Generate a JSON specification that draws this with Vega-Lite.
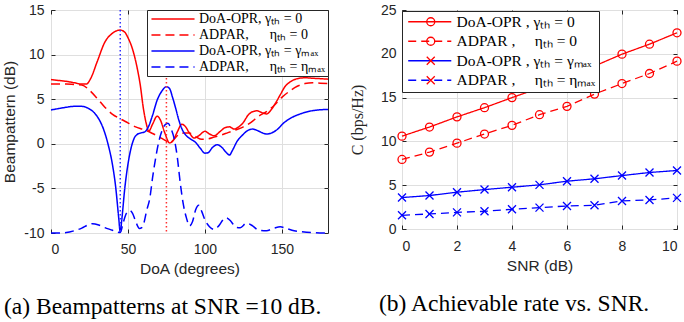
{
  "$schema": "https://vega.github.io/schema/vega-lite/v6.json",
  "background": "white",
  "padding": {"left": 2, "top": 2, "right": 0, "bottom": 0},
  "bounds": "flush",
  "spacing": 74,
  "config": {
    "view": {"stroke": "#262626", "strokeWidth": 1},
    "axis": {
      "labelFont": "Liberation Sans", "labelFontSize": 14, "labelColor": "#262626",
      "titleFont": "Liberation Sans", "titleFontSize": 15.5, "titleFontWeight": "normal", "titleColor": "#262626",
      "gridColor": "#dfdfdf", "gridWidth": 1, "domain": false,
      "tickColor": "#262626", "tickSize": -4, "tickWidth": 1
    }
  },
  "resolve": {
    "scale": {"color": "independent", "strokeDash": "independent", "shape": "independent"},
    "legend": {"color": "independent", "strokeDash": "independent", "shape": "independent"}
  },
  "datasets": {
    "beamRed": [
      {"doa": 0, "bp": 7.2, "s": "r1"}, {"doa": 5, "bp": 7.1, "s": "r1"}, {"doa": 10, "bp": 7.0, "s": "r1"},
      {"doa": 15, "bp": 6.85, "s": "r1"}, {"doa": 20, "bp": 6.7, "s": "r1"}, {"doa": 23, "bp": 6.7, "s": "r1"},
      {"doa": 26, "bp": 7.4, "s": "r1"}, {"doa": 30, "bp": 9.2, "s": "r1"}, {"doa": 35, "bp": 11.4, "s": "r1"},
      {"doa": 40, "bp": 12.4, "s": "r1"}, {"doa": 45, "bp": 12.75, "s": "r1"}, {"doa": 48, "bp": 12.5, "s": "r1"},
      {"doa": 50, "bp": 11.9, "s": "r1"}, {"doa": 53, "bp": 10.6, "s": "r1"}, {"doa": 56, "bp": 8.5, "s": "r1"},
      {"doa": 58, "bp": 6.6, "s": "r1"}, {"doa": 60, "bp": 4.0, "s": "r1"}, {"doa": 62, "bp": 2.2, "s": "r1"},
      {"doa": 63.5, "bp": 1.4, "s": "r1"}, {"doa": 66, "bp": 2.2, "s": "r1"}, {"doa": 69, "bp": 3.1, "s": "r1"},
      {"doa": 71, "bp": 2.7, "s": "r1"}, {"doa": 74, "bp": 1.2, "s": "r1"}, {"doa": 77, "bp": 0.1, "s": "r1"},
      {"doa": 79, "bp": 0.3, "s": "r1"}, {"doa": 82, "bp": 1.3, "s": "r1"}, {"doa": 85, "bp": 2.2, "s": "r1"},
      {"doa": 87, "bp": 2.0, "s": "r1"}, {"doa": 90, "bp": 1.2, "s": "r1"}, {"doa": 93, "bp": 0.65, "s": "r1"},
      {"doa": 96, "bp": 0.9, "s": "r1"}, {"doa": 100, "bp": 1.4, "s": "r1"}, {"doa": 103, "bp": 1.1, "s": "r1"},
      {"doa": 106, "bp": 0.9, "s": "r1"}, {"doa": 110, "bp": 1.4, "s": "r1"}, {"doa": 113, "bp": 1.8, "s": "r1"},
      {"doa": 116, "bp": 1.9, "s": "r1"}, {"doa": 119, "bp": 1.65, "s": "r1"}, {"doa": 122, "bp": 1.9, "s": "r1"},
      {"doa": 125, "bp": 2.4, "s": "r1"}, {"doa": 128, "bp": 3.2, "s": "r1"}, {"doa": 131, "bp": 3.6, "s": "r1"},
      {"doa": 134, "bp": 3.7, "s": "r1"}, {"doa": 137, "bp": 3.5, "s": "r1"}, {"doa": 140, "bp": 3.35, "s": "r1"},
      {"doa": 143, "bp": 3.8, "s": "r1"}, {"doa": 146, "bp": 4.6, "s": "r1"}, {"doa": 149, "bp": 5.5, "s": "r1"},
      {"doa": 152, "bp": 6.4, "s": "r1"}, {"doa": 156, "bp": 7.0, "s": "r1"}, {"doa": 160, "bp": 7.3, "s": "r1"},
      {"doa": 165, "bp": 7.4, "s": "r1"}, {"doa": 170, "bp": 7.35, "s": "r1"}, {"doa": 175, "bp": 7.3, "s": "r1"},
      {"doa": 180, "bp": 7.25, "s": "r1"},
      {"doa": 0, "bp": 6.7, "s": "r2"}, {"doa": 5, "bp": 6.7, "s": "r2"}, {"doa": 10, "bp": 6.7, "s": "r2"},
      {"doa": 15, "bp": 6.65, "s": "r2"}, {"doa": 20, "bp": 6.6, "s": "r2"}, {"doa": 25, "bp": 6.0, "s": "r2"},
      {"doa": 30, "bp": 5.1, "s": "r2"}, {"doa": 35, "bp": 4.1, "s": "r2"}, {"doa": 40, "bp": 3.3, "s": "r2"},
      {"doa": 45, "bp": 2.8, "s": "r2"}, {"doa": 50, "bp": 2.35, "s": "r2"}, {"doa": 55, "bp": 1.9, "s": "r2"},
      {"doa": 60, "bp": 1.6, "s": "r2"}, {"doa": 63, "bp": 1.4, "s": "r2"}, {"doa": 66, "bp": 1.15, "s": "r2"},
      {"doa": 69, "bp": 0.9, "s": "r2"}, {"doa": 72, "bp": 0.6, "s": "r2"}, {"doa": 75, "bp": 0.3, "s": "r2"},
      {"doa": 77, "bp": 0.1, "s": "r2"}, {"doa": 79, "bp": 0.3, "s": "r2"}, {"doa": 82, "bp": 0.9, "s": "r2"},
      {"doa": 86, "bp": 1.2, "s": "r2"}, {"doa": 90, "bp": 1.2, "s": "r2"}, {"doa": 94, "bp": 0.8, "s": "r2"},
      {"doa": 98, "bp": 0.5, "s": "r2"}, {"doa": 102, "bp": 0.55, "s": "r2"}, {"doa": 106, "bp": 0.75, "s": "r2"},
      {"doa": 110, "bp": 0.95, "s": "r2"}, {"doa": 115, "bp": 1.25, "s": "r2"}, {"doa": 120, "bp": 1.55, "s": "r2"},
      {"doa": 125, "bp": 1.9, "s": "r2"}, {"doa": 130, "bp": 2.4, "s": "r2"}, {"doa": 135, "bp": 3.1, "s": "r2"},
      {"doa": 140, "bp": 3.6, "s": "r2"}, {"doa": 145, "bp": 4.3, "s": "r2"}, {"doa": 150, "bp": 5.2, "s": "r2"},
      {"doa": 155, "bp": 5.9, "s": "r2"}, {"doa": 160, "bp": 6.45, "s": "r2"}, {"doa": 165, "bp": 6.75, "s": "r2"},
      {"doa": 170, "bp": 6.85, "s": "r2"}, {"doa": 175, "bp": 6.8, "s": "r2"}, {"doa": 180, "bp": 6.75, "s": "r2"}
    ],
    "beamBlue": [
      {"doa": 0, "bp": 3.8, "s": "b1"}, {"doa": 5, "bp": 3.95, "s": "b1"}, {"doa": 10, "bp": 4.1, "s": "b1"},
      {"doa": 15, "bp": 4.2, "s": "b1"}, {"doa": 20, "bp": 4.2, "s": "b1"}, {"doa": 25, "bp": 3.9, "s": "b1"},
      {"doa": 28, "bp": 3.5, "s": "b1"}, {"doa": 31, "bp": 2.8, "s": "b1"}, {"doa": 34, "bp": 1.7, "s": "b1"},
      {"doa": 37, "bp": 0.0, "s": "b1"}, {"doa": 40, "bp": -2.4, "s": "b1"}, {"doa": 42, "bp": -4.8, "s": "b1"},
      {"doa": 44, "bp": -8.3, "s": "b1"}, {"doa": 45, "bp": -9.9, "s": "b1"}, {"doa": 46, "bp": -8.5, "s": "b1"},
      {"doa": 48, "bp": -4.9, "s": "b1"}, {"doa": 50, "bp": -2.3, "s": "b1"}, {"doa": 52, "bp": -0.5, "s": "b1"},
      {"doa": 54, "bp": 0.6, "s": "b1"}, {"doa": 56, "bp": 1.05, "s": "b1"}, {"doa": 58, "bp": 1.2, "s": "b1"},
      {"doa": 61, "bp": 1.35, "s": "b1"}, {"doa": 63, "bp": 1.8, "s": "b1"}, {"doa": 66, "bp": 3.2, "s": "b1"},
      {"doa": 69, "bp": 4.9, "s": "b1"}, {"doa": 72, "bp": 5.9, "s": "b1"}, {"doa": 75, "bp": 6.4, "s": "b1"},
      {"doa": 77, "bp": 6.2, "s": "b1"}, {"doa": 79, "bp": 5.2, "s": "b1"}, {"doa": 81, "bp": 4.0, "s": "b1"},
      {"doa": 83, "bp": 2.7, "s": "b1"}, {"doa": 85, "bp": 1.7, "s": "b1"}, {"doa": 88, "bp": 0.9, "s": "b1"},
      {"doa": 91, "bp": 0.5, "s": "b1"}, {"doa": 94, "bp": 0.15, "s": "b1"}, {"doa": 97, "bp": -0.5, "s": "b1"},
      {"doa": 100, "bp": -1.05, "s": "b1"}, {"doa": 102, "bp": -1.0, "s": "b1"}, {"doa": 105, "bp": -0.4, "s": "b1"},
      {"doa": 108, "bp": -0.1, "s": "b1"}, {"doa": 111, "bp": -0.4, "s": "b1"}, {"doa": 114, "bp": -1.0, "s": "b1"},
      {"doa": 116, "bp": -1.25, "s": "b1"}, {"doa": 118, "bp": -0.7, "s": "b1"}, {"doa": 121, "bp": 0.3, "s": "b1"},
      {"doa": 124, "bp": 0.9, "s": "b1"}, {"doa": 128, "bp": 1.5, "s": "b1"}, {"doa": 131, "bp": 1.65, "s": "b1"},
      {"doa": 134, "bp": 1.5, "s": "b1"}, {"doa": 137, "bp": 1.25, "s": "b1"}, {"doa": 140, "bp": 1.1, "s": "b1"},
      {"doa": 143, "bp": 1.2, "s": "b1"}, {"doa": 147, "bp": 1.6, "s": "b1"}, {"doa": 151, "bp": 2.3, "s": "b1"},
      {"doa": 156, "bp": 2.9, "s": "b1"}, {"doa": 162, "bp": 3.35, "s": "b1"}, {"doa": 168, "bp": 3.65, "s": "b1"},
      {"doa": 174, "bp": 3.8, "s": "b1"}, {"doa": 180, "bp": 3.85, "s": "b1"},
      {"doa": 0, "bp": -10, "s": "b2"}, {"doa": 5, "bp": -10, "s": "b2"}, {"doa": 10, "bp": -9.95, "s": "b2"},
      {"doa": 15, "bp": -9.75, "s": "b2"}, {"doa": 20, "bp": -9.45, "s": "b2"}, {"doa": 24, "bp": -9.1, "s": "b2"},
      {"doa": 27, "bp": -8.95, "s": "b2"}, {"doa": 31, "bp": -9.1, "s": "b2"}, {"doa": 35, "bp": -9.4, "s": "b2"},
      {"doa": 40, "bp": -9.7, "s": "b2"}, {"doa": 43, "bp": -9.9, "s": "b2"}, {"doa": 45, "bp": -9.95, "s": "b2"},
      {"doa": 47, "bp": -8.8, "s": "b2"}, {"doa": 49, "bp": -7.8, "s": "b2"}, {"doa": 51.3, "bp": -7.5, "s": "b2"},
      {"doa": 53, "bp": -7.8, "s": "b2"}, {"doa": 55, "bp": -8.7, "s": "b2"}, {"doa": 57.5, "bp": -9.5, "s": "b2"},
      {"doa": 59, "bp": -9.4, "s": "b2"}, {"doa": 60.5, "bp": -8.8, "s": "b2"}, {"doa": 62, "bp": -7.6, "s": "b2"},
      {"doa": 64.3, "bp": -6.0, "s": "b2"}, {"doa": 66, "bp": -3.8, "s": "b2"}, {"doa": 68, "bp": -1.6, "s": "b2"},
      {"doa": 70, "bp": 0.2, "s": "b2"}, {"doa": 72, "bp": 1.4, "s": "b2"}, {"doa": 74, "bp": 2.1, "s": "b2"},
      {"doa": 76, "bp": 2.3, "s": "b2"}, {"doa": 78, "bp": 1.7, "s": "b2"}, {"doa": 80, "bp": 0.6, "s": "b2"},
      {"doa": 82, "bp": -1.4, "s": "b2"}, {"doa": 84, "bp": -4.4, "s": "b2"}, {"doa": 86, "bp": -6.8, "s": "b2"},
      {"doa": 88, "bp": -8.3, "s": "b2"}, {"doa": 90, "bp": -9.2, "s": "b2"}, {"doa": 92, "bp": -8.7, "s": "b2"},
      {"doa": 94, "bp": -7.4, "s": "b2"}, {"doa": 96, "bp": -6.9, "s": "b2"}, {"doa": 98, "bp": -7.6, "s": "b2"},
      {"doa": 100, "bp": -8.5, "s": "b2"}, {"doa": 103, "bp": -9.3, "s": "b2"}, {"doa": 106, "bp": -9.6, "s": "b2"},
      {"doa": 109, "bp": -9.2, "s": "b2"}, {"doa": 112, "bp": -8.5, "s": "b2"}, {"doa": 114, "bp": -8.3, "s": "b2"},
      {"doa": 117, "bp": -8.7, "s": "b2"}, {"doa": 120, "bp": -9.35, "s": "b2"}, {"doa": 123, "bp": -9.4, "s": "b2"},
      {"doa": 127, "bp": -8.9, "s": "b2"}, {"doa": 131, "bp": -9.2, "s": "b2"}, {"doa": 135, "bp": -9.7, "s": "b2"},
      {"doa": 140, "bp": -9.75, "s": "b2"}, {"doa": 145, "bp": -9.45, "s": "b2"}, {"doa": 149, "bp": -9.3, "s": "b2"},
      {"doa": 153, "bp": -9.5, "s": "b2"}, {"doa": 158, "bp": -9.75, "s": "b2"}, {"doa": 163, "bp": -9.85, "s": "b2"},
      {"doa": 170, "bp": -9.95, "s": "b2"}, {"doa": 180, "bp": -10, "s": "b2"}
    ],
    "marks": [
      {"doa": 45, "col": "#3030ff"},
      {"doa": 75, "col": "#ff3030"}
    ],
    "rate": [
      {"snr": 0, "c": 10.6, "s": "R1", "m": "o1"}, {"snr": 1, "c": 11.64, "s": "R1", "m": "o1"},
      {"snr": 2, "c": 12.8, "s": "R1", "m": "o1"}, {"snr": 3, "c": 13.85, "s": "R1", "m": "o1"},
      {"snr": 4, "c": 15.0, "s": "R1", "m": "o1"}, {"snr": 5, "c": 16.1, "s": "R1", "m": "o1"},
      {"snr": 6, "c": 17.3, "s": "R1", "m": "o1"}, {"snr": 7, "c": 18.6, "s": "R1", "m": "o1"},
      {"snr": 8, "c": 19.96, "s": "R1", "m": "o1"}, {"snr": 9, "c": 21.1, "s": "R1", "m": "o1"},
      {"snr": 10, "c": 22.4, "s": "R1", "m": "o1"},
      {"snr": 0, "c": 7.94, "s": "R2", "m": "o2"}, {"snr": 1, "c": 8.78, "s": "R2", "m": "o2"},
      {"snr": 2, "c": 9.8, "s": "R2", "m": "o2"}, {"snr": 3, "c": 10.84, "s": "R2", "m": "o2"},
      {"snr": 4, "c": 11.83, "s": "R2", "m": "o2"}, {"snr": 5, "c": 13.05, "s": "R2", "m": "o2"},
      {"snr": 6, "c": 14.0, "s": "R2", "m": "o2"}, {"snr": 7, "c": 15.4, "s": "R2", "m": "o2"},
      {"snr": 8, "c": 16.6, "s": "R2", "m": "o2"}, {"snr": 9, "c": 17.75, "s": "R2", "m": "o2"},
      {"snr": 10, "c": 19.16, "s": "R2", "m": "o2"},
      {"snr": 0, "c": 3.59, "s": "B1", "m": "x1"}, {"snr": 1, "c": 3.82, "s": "B1", "m": "x1"},
      {"snr": 2, "c": 4.2, "s": "B1", "m": "x1"}, {"snr": 3, "c": 4.5, "s": "B1", "m": "x1"},
      {"snr": 4, "c": 4.77, "s": "B1", "m": "x1"}, {"snr": 5, "c": 5.04, "s": "B1", "m": "x1"},
      {"snr": 6, "c": 5.46, "s": "B1", "m": "x1"}, {"snr": 7, "c": 5.73, "s": "B1", "m": "x1"},
      {"snr": 8, "c": 6.1, "s": "B1", "m": "x1"}, {"snr": 9, "c": 6.45, "s": "B1", "m": "x1"},
      {"snr": 10, "c": 6.68, "s": "B1", "m": "x1"},
      {"snr": 0, "c": 1.56, "s": "B2", "m": "x2"}, {"snr": 1, "c": 1.72, "s": "B2", "m": "x2"},
      {"snr": 2, "c": 1.9, "s": "B2", "m": "x2"}, {"snr": 3, "c": 2.02, "s": "B2", "m": "x2"},
      {"snr": 4, "c": 2.25, "s": "B2", "m": "x2"}, {"snr": 5, "c": 2.44, "s": "B2", "m": "x2"},
      {"snr": 6, "c": 2.63, "s": "B2", "m": "x2"}, {"snr": 7, "c": 2.71, "s": "B2", "m": "x2"},
      {"snr": 8, "c": 3.2, "s": "B2", "m": "x2"}, {"snr": 9, "c": 3.32, "s": "B2", "m": "x2"},
      {"snr": 10, "c": 3.55, "s": "B2", "m": "x2"}
    ]
  },
  "hconcat": [
    {
      "width": 277,
      "height": 223,
      "title": {
        "text": "(a) Beampatterns at SNR =10 dB.", "orient": "bottom", "anchor": "start", "frame": "group",
        "dx": -47, "offset": 18, "font": "Liberation Serif", "fontSize": 23.5, "fontWeight": "normal", "color": "black"
      },
      "resolve": {"axis": {"x": "independent", "y": "independent"}},
      "layer": [
        {
          "data": {"name": "beamRed"},
          "mark": {"type": "line", "strokeWidth": 1.5, "interpolate": "monotone"},
          "encoding": {
            "x": {"field": "doa", "type": "quantitative", "scale": {"domain": [0, 180], "nice": false},
              "axis": {"values": [0, 50, 100, 150], "title": "DoA (degrees)", "labelPadding": 13, "titlePadding": 5}},
            "y": {"field": "bp", "type": "quantitative", "scale": {"domain": [-10, 15], "nice": false},
              "axis": {"values": [-10, -5, 0, 5, 10, 15], "title": "Beampattern (dB)", "labelExpr": "'' + datum.value", "labelPadding": 11, "titlePadding": 6}},
            "color": {"field": "s", "type": "nominal",
              "scale": {"domain": ["r1", "r2", "b1", "b2"], "range": ["#ff0000", "#ff0000", "#0000ff", "#0000ff"]},
              "legend": {"orient": "top-right", "offset": 0, "title": null, "symbolType": "M-4,0L4,0", "symbolSize": 116, "symbolStrokeWidth": 1.5, "symbolOffset": 17,
                "labelFont": "Liberation Serif", "labelFontSize": 14, "labelColor": "black", "labelLimit": 400, "labelOffset": 19,
                "strokeColor": "#262626", "fillColor": "white", "padding": 2, "rowPadding": 2, "cornerRadius": 0,
                "labelExpr": "datum.value == 'r1' ? 'DoA-OPR, γₜₕ = 0' : datum.value == 'r2' ? 'ADPAR,\u00a0\u00a0\u00a0\u00a0\u00a0\u00a0ηₜₕ = 0' : datum.value == 'b1' ? 'DoA-OPR, γₜₕ = γₘₐₓ' : 'ADPAR,\u00a0\u00a0\u00a0\u00a0\u00a0\u00a0ηₜₕ = ηₘₐₓ'"}},
            "strokeDash": {"field": "s", "type": "nominal",
              "scale": {"domain": ["r1", "r2", "b1", "b2"], "range": [[1, 0], [9, 5], [1, 0], [9, 5]]},
              "legend": {"orient": "top-right", "offset": 0, "title": null, "symbolType": "M-4,0L4,0", "symbolSize": 116, "symbolStrokeWidth": 1.5, "symbolOffset": 17,
                "labelFont": "Liberation Serif", "labelFontSize": 14, "labelColor": "black", "labelLimit": 400, "labelOffset": 19,
                "strokeColor": "#262626", "fillColor": "white", "padding": 2, "rowPadding": 2, "cornerRadius": 0,
                "labelExpr": "datum.value == 'r1' ? 'DoA-OPR, γₜₕ = 0' : datum.value == 'r2' ? 'ADPAR,\u00a0\u00a0\u00a0\u00a0\u00a0\u00a0ηₜₕ = 0' : datum.value == 'b1' ? 'DoA-OPR, γₜₕ = γₘₐₓ' : 'ADPAR,\u00a0\u00a0\u00a0\u00a0\u00a0\u00a0ηₜₕ = ηₘₐₓ'"}}
          }
        },
        {
          "data": {"name": "beamBlue"},
          "mark": {"type": "line", "strokeWidth": 1.5, "interpolate": "monotone"},
          "encoding": {
            "x": {"field": "doa", "type": "quantitative", "axis": null},
            "y": {"field": "bp", "type": "quantitative",
              "axis": {"orient": "right", "values": [-10, -5, 0, 5, 10, 15], "labels": false, "grid": false, "title": null}},
            "color": {"field": "s", "type": "nominal"},
            "strokeDash": {"field": "s", "type": "nominal"}
          }
        },
        {
          "data": {"name": "marks"},
          "mark": {"type": "rule", "strokeDash": [1.5, 2.5], "strokeWidth": 1.5},
          "encoding": {
            "x": {"field": "doa", "type": "quantitative",
              "axis": {"orient": "top", "values": [0, 50, 100, 150], "labels": false, "grid": false, "title": null}},
            "stroke": {"field": "col", "type": "nominal", "scale": null}
          }
        }
      ]
    },
    {
      "width": 275,
      "height": 219,
      "title": {
        "text": "(b) Achievable rate vs. SNR.", "orient": "bottom", "anchor": "start", "frame": "group",
        "dx": -23, "offset": 18, "font": "Liberation Serif", "fontSize": 23.5, "fontWeight": "normal", "color": "black"
      },
      "resolve": {"axis": {"x": "independent", "y": "independent"}},
      "layer": [
        {
          "data": {"name": "rate"},
          "mark": {"type": "line", "strokeWidth": 1.3},
          "encoding": {
            "x": {"field": "snr", "type": "quantitative", "scale": {"domain": [0, 10], "nice": false},
              "axis": {"values": [0, 2, 4, 6, 8, 10], "title": "SNR (dB)", "labelPadding": 14, "titlePadding": 5}},
            "y": {"field": "c", "type": "quantitative", "scale": {"domain": [0, 25], "nice": false},
              "axis": {"values": [0, 5, 10, 15, 20, 25], "title": "C (bps/Hz)", "titleFont": "Liberation Serif", "titleFontSize": 16, "labelPadding": 10, "titlePadding": 15}},
            "color": {"field": "s", "type": "nominal",
              "scale": {"domain": ["R1", "R2", "B1", "B2"], "range": ["#ff0000", "#ff0000", "#0000ff", "#0000ff"]},
              "legend": {"orient": "none", "legendX": 0, "legendY": 1, "title": null, "symbolType": "M-4,0L4,0", "symbolSize": 116, "symbolStrokeWidth": 1.3, "symbolOffset": 17,
                "labelFont": "Liberation Serif", "labelFontSize": 15.5, "labelColor": "black", "labelLimit": 400, "labelOffset": 19,
                "strokeColor": "#262626", "fillColor": "white", "padding": 3, "rowPadding": 2.5, "cornerRadius": 0,
                "labelExpr": "datum.value == 'R1' ? 'DoA-OPR , γₜₕ = 0' : datum.value == 'R2' ? 'ADPAR ,\u00a0\u00a0\u00a0\u00a0\u00a0ηₜₕ = 0' : datum.value == 'B1' ? 'DoA-OPR , γₜₕ = γₘₐₓ' : 'ADPAR ,\u00a0\u00a0\u00a0\u00a0\u00a0ηₜₕ = ηₘₐₓ'"}},
            "strokeDash": {"field": "s", "type": "nominal",
              "scale": {"domain": ["R1", "R2", "B1", "B2"], "range": [[1, 0], [8, 5], [1, 0], [8, 5]]},
              "legend": {"orient": "none", "legendX": 0, "legendY": 1, "title": null, "symbolType": "M-4,0L4,0", "symbolSize": 116, "symbolStrokeWidth": 1.3, "symbolOffset": 17,
                "labelFont": "Liberation Serif", "labelFontSize": 15.5, "labelColor": "black", "labelLimit": 400, "labelOffset": 19,
                "strokeColor": "#262626", "fillColor": "white", "padding": 3, "rowPadding": 2.5, "cornerRadius": 0,
                "labelExpr": "datum.value == 'R1' ? 'DoA-OPR , γₜₕ = 0' : datum.value == 'R2' ? 'ADPAR ,\u00a0\u00a0\u00a0\u00a0\u00a0ηₜₕ = 0' : datum.value == 'B1' ? 'DoA-OPR , γₜₕ = γₘₐₓ' : 'ADPAR ,\u00a0\u00a0\u00a0\u00a0\u00a0ηₜₕ = ηₘₐₓ'"}}
          }
        },
        {
          "data": {"name": "rate"},
          "mark": {"type": "point", "filled": false, "size": 64, "strokeWidth": 1.3, "opacity": 1},
          "encoding": {
            "x": {"field": "snr", "type": "quantitative",
              "axis": {"orient": "top", "values": [0, 2, 4, 6, 8, 10], "labels": false, "grid": false, "title": null}},
            "y": {"field": "c", "type": "quantitative",
              "axis": {"orient": "right", "values": [0, 5, 10, 15, 20, 25], "labels": false, "grid": false, "title": null}},
            "color": {"field": "s", "type": "nominal", "legend": null},
            "shape": {"field": "m", "type": "nominal",
              "scale": {"domain": ["o1", "o2", "x1", "x2"], "range": ["circle", "circle", "M-1,-1L1,1M-1,1L1,-1", "M-1,-1L1,1M-1,1L1,-1"]},
              "legend": {"orient": "none", "legendX": 18, "legendY": 1, "title": null, "symbolSize": 64, "symbolStrokeWidth": 1.3,
                "symbolFillColor": "transparent", "symbolStrokeColor": "#ff0000",
                "labelFont": "Liberation Serif", "labelFontSize": 15.5, "labelColor": "transparent", "labelLimit": 400, "labelOffset": 4,
                "padding": 3, "rowPadding": 2.5,
                "labelExpr": "''",
                "encode": {"symbols": {"update": {"stroke": {"signal": "indexof(['o1','o2'], datum.value) >= 0 ? '#ff0000' : '#0000ff'"}, "fill": {"value": "transparent"}, "opacity": {"value": 1}}}}}}
          }
        }
      ]
    }
  ]
}
